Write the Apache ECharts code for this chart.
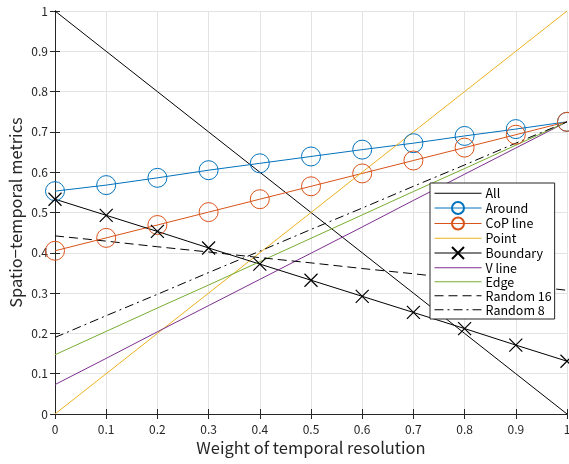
<!DOCTYPE html>
<html lang="en" style="height: 100%">
<head>
    <meta charset="UTF-8">
    <title>Spatio-temporal metrics</title>
    <script src="https://cdn.jsdelivr.net/npm/echarts@6/dist/echarts.min.js"></script>
</head>
<body style="height: 100%; margin: 0">
<div id="main" style="width: 569px; height: 464px"></div>
<script>
    // weight of temporal resolution
    var weights = [0, 0.1, 0.2, 0.3, 0.4, 0.5, 0.6, 0.7, 0.8, 0.9, 1];
    var allVals = [1, 0.9, 0.8, 0.7, 0.6, 0.5, 0.4, 0.3, 0.2, 0.1, 0];
    var aroundVals = [0.553, 0.568, 0.586, 0.605, 0.622, 0.639, 0.656, 0.672, 0.69, 0.707, 0.725];
    var copVals = [0.405, 0.437, 0.469, 0.501, 0.533, 0.565, 0.597, 0.629, 0.661, 0.693, 0.725];
    var pointVals = [0, 0.1, 0.2, 0.3, 0.4, 0.5, 0.6, 0.7, 0.8, 0.9, 1];
    var boundaryVals = [0.533, 0.493, 0.453, 0.412, 0.372, 0.332, 0.292, 0.252, 0.212, 0.171, 0.131];
    var vlineVals = [0.073, 0.138, 0.204, 0.269, 0.334, 0.399, 0.464, 0.530, 0.595, 0.660, 0.725];
    var edgeVals = [0.147, 0.205, 0.263, 0.320, 0.378, 0.436, 0.494, 0.552, 0.609, 0.667, 0.725];
    var random16Vals = [0.442, 0.429, 0.415, 0.402, 0.388, 0.375, 0.361, 0.348, 0.334, 0.321, 0.307];
    var random8Vals = [0.19, 0.244, 0.297, 0.351, 0.404, 0.458, 0.511, 0.565, 0.618, 0.672, 0.725];

    var legendNames = ['All', 'Around', 'CoP line', 'Point', 'Boundary', 'V line', 'Edge', 'Random 16', 'Random 8'];
    var markerNames = ['Around', 'CoP line', 'Boundary'];

    function pairs(vals) {
        return weights.map(function (w, i) { return [w, vals[i]]; });
    }

    var crossPath = 'path://M0,0L10,10M10,0L0,10';
    var font = '"Noto Sans CJK JP", "Liberation Sans", sans-serif';
    var axisColor = '#262626';

    function lineSeries(name, vals, color, extra) {
        var s = {
            name: name,
            type: 'line',
            data: pairs(vals),
            symbol: 'none',
            lineStyle: {color: color, width: 1},
            itemStyle: {color: color},
            animation: false,
            z: 3
        };
        for (var k in extra) { s[k] = extra[k]; }
        return s;
    }

    var myoption = {
        animation: false,
        grid: {left: 55, right: 2, top: 11, bottom: 50, containLabel: false, outerBoundsMode: 'none'},
        legend: {
            orient: 'vertical',
            left: 430,
            top: 183,
            itemWidth: 47,
            itemHeight: 15,
            itemGap: 1.5,
            padding: [4, 3, 3, 4],
            backgroundColor: '#fff',
            borderColor: axisColor,
            borderWidth: 1,
            borderRadius: 0,
            lineStyle: {width: 1},
            textStyle: {fontFamily: font, fontSize: 12.5, color: '#000', padding: [0, 0, 0, -1]},
            data: legendNames.map(function (n) {
                return markerNames.indexOf(n) >= 0 ? {name: n} : {name: n, itemStyle: {opacity: 0}};
            })
        },
        xAxis: [{
            type: 'value', min: 0, max: 1, interval: 0.1,
            name: 'Weight of temporal resolution', nameLocation: 'middle', nameGap: 25,
            nameMoveOverlap: false,
            nameTextStyle: {fontFamily: font, fontSize: 16.5, color: '#262626'},
            axisLine: {show: true, lineStyle: {color: axisColor}},
            axisTick: {show: true, inside: true, length: 5, lineStyle: {color: axisColor}},
            axisLabel: {fontFamily: font, fontSize: 12, color: '#262626', margin: 9},
            splitLine: {show: true, lineStyle: {color: '#e3e3e3'}}
        }, {
            type: 'value', min: 0, max: 1, interval: 0.1, position: 'top',
            axisLine: {show: true, lineStyle: {color: axisColor}},
            axisTick: {show: true, inside: true, length: 5, lineStyle: {color: axisColor}},
            axisLabel: {show: false},
            splitLine: {show: false}
        }],
        yAxis: [{
            type: 'value', min: 0, max: 1, interval: 0.1,
            name: 'Spatio\u2212temporal metrics', nameLocation: 'middle', nameGap: 31,
            nameMoveOverlap: false,
            nameTextStyle: {fontFamily: font, fontSize: 16.5, color: '#262626'},
            axisLine: {show: true, lineStyle: {color: axisColor}},
            axisTick: {show: true, inside: true, length: 5, lineStyle: {color: axisColor}},
            axisLabel: {fontFamily: font, fontSize: 12, color: '#262626', margin: 7},
            splitLine: {show: true, lineStyle: {color: '#e3e3e3'}}
        }, {
            type: 'value', min: 0, max: 1, interval: 0.1, position: 'right',
            axisLine: {show: true, lineStyle: {color: axisColor}},
            axisTick: {show: true, inside: true, length: 5, lineStyle: {color: axisColor}},
            axisLabel: {show: false},
            splitLine: {show: false}
        }],
        series: [
            lineSeries('All', allVals, '#000'),
            lineSeries('Around', aroundVals, '#0072BD', {
                symbol: 'circle', symbolSize: 19,
                itemStyle: {color: 'rgba(0,0,0,0)', borderColor: '#0072BD', borderWidth: 1}
            }),
            lineSeries('CoP line', copVals, '#D95319', {
                symbol: 'circle', symbolSize: 19,
                itemStyle: {color: 'rgba(0,0,0,0)', borderColor: '#D95319', borderWidth: 1}
            }),
            lineSeries('Point', pointVals, '#EDB120'),
            lineSeries('Boundary', boundaryVals, '#000', {
                symbol: crossPath, symbolSize: 13,
                itemStyle: {color: 'rgba(0,0,0,0)', borderColor: '#000', borderWidth: 1.2}
            }),
            lineSeries('V line', vlineVals, '#7E2F8E'),
            lineSeries('Edge', edgeVals, '#77AC30'),
            lineSeries('Random 16', random16Vals, '#000', {
                lineStyle: {color: '#000', width: 1, type: [9, 5]}
            }),
            lineSeries('Random 8', random8Vals, '#000', {
                lineStyle: {color: '#000', width: 1, type: [9, 4, 2, 4]}
            })
        ]
    };
    var myChart = echarts.init(document.getElementById('main'));
    myChart.setOption(myoption);
</script>
</body>
</html>
